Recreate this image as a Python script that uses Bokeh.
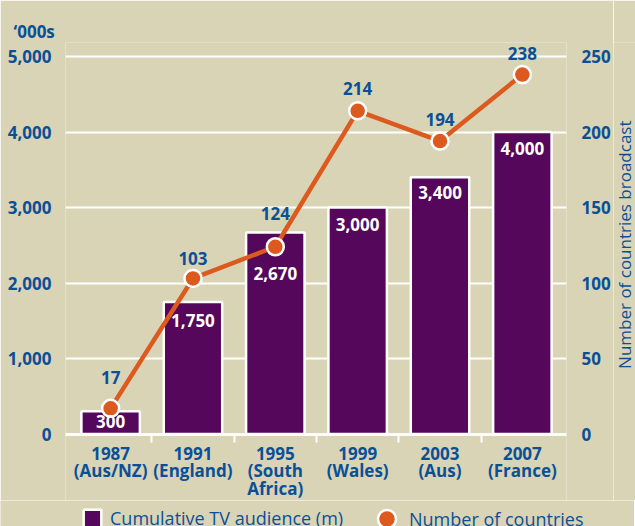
from math import pi
from bokeh.plotting import figure
from bokeh.layouts import row, column
from bokeh.models import (Range1d, LinearAxis, FixedTicker, NumeralTickFormatter,
                          ColumnDataSource, Legend, LegendItem)
from bokeh.core.properties import value
from bokeh.embed import file_html
from bokeh.resources import INLINE

# ---------------- data ----------------
years = ["1987", "1991", "1995", "1999", "2003", "2007"]
hosts = ["(Aus/NZ)", "(England)", "(South\nAfrica)", "(Wales)", "(Aus)", "(France)"]
audience = [300, 1750, 2670, 3000, 3400, 4000]          # cumulative TV audience
countries = [17, 103, 124, 214, 194, 238]               # number of countries broadcast
left_ticks = [0, 1000, 2000, 3000, 4000, 5000]
right_ticks = [0, 50, 100, 150, 200, 250]

# ---------------- styles / layout ----------------
BG = "#D9D4B6"
PURPLE = "#55075B"
ORANGE = "#DC5A1E"
BLUE = "#0B5096"
FONT = "Open Sans"
bar_label_offsets = [10, 19, 41, 17, 15, 16]
line_label_offsets = [-31, -20, -33, -22, -22, -21]

W_MAIN, H_MAIN, W_SIDE, H_LEG = 613, 500, 22, 26
B_LEFT, B_RIGHT, B_TOP = 65, 43, 42
ZERO_PX, TOP_PX = 433.5, 56.0          # canvas rows of value 0 and of the top tick
ppu = (ZERO_PX - TOP_PX) / left_ticks[-1]
y_end = left_ticks[-1] + (TOP_PX - B_TOP) / ppu
y_start = -(H_MAIN - ZERO_PX) / ppu
ratio = left_ticks[-1] / right_ticks[-1]

xs = [i + 0.5 for i in range(len(years))]


def bare(fig):
    fig.xaxis.visible = False
    fig.yaxis.visible = False
    fig.grid.visible = False
    return fig


p = figure(width=W_MAIN, height=H_MAIN, x_range=Range1d(-0.048, 6.036),
           y_range=Range1d(y_start, y_end), output_backend="svg", toolbar_location=None,
           min_border_left=B_LEFT, min_border_right=B_RIGHT,
           min_border_top=B_TOP, min_border_bottom=0,
           background_fill_color=BG, border_fill_color=BG, outline_line_color=None)
p.extra_y_ranges = {"countries": Range1d(y_start / ratio, y_end / ratio)}

# unit label as the title
p.title.text = "\u2018000s"
p.title.align = "left"
p.title.offset = -52
p.title.vertical_align = "bottom"
p.title.standoff = 0
p.title.text_font = FONT
p.title.text_font_style = "bold"
p.title.text_font_size = "17px"
p.title.text_color = BLUE

# grid
lt = FixedTicker(ticks=left_ticks)
p.xgrid.visible = False
p.ygrid.ticker = lt
p.ygrid.grid_line_color = "white"
p.ygrid.grid_line_width = 2

# left axis
ya = p.yaxis[0]
ya.ticker = lt
ya.formatter = NumeralTickFormatter(format="0,0")
ya.axis_line_color = None
ya.major_tick_line_color = None
ya.minor_tick_line_color = None
ya.major_label_standoff = 8
ya.major_label_text_font = FONT
ya.major_label_text_font_style = "bold"
ya.major_label_text_font_size = "17px"
ya.major_label_text_color = BLUE

# right axis
ra = LinearAxis(y_range_name="countries", ticker=FixedTicker(ticks=right_ticks))
ra.axis_line_color = None
ra.major_tick_line_color = None
ra.minor_tick_line_color = None
ra.major_label_standoff = 9
ra.major_label_text_font = FONT
ra.major_label_text_font_style = "bold"
ra.major_label_text_font_size = "17px"
ra.major_label_text_color = BLUE
p.add_layout(ra, "right")

# bottom axis at y=0
xa = p.xaxis[0]
xa.fixed_location = 0
xa.ticker = FixedTicker(ticks=xs, minor_ticks=[i for i in range(1, len(years))])
xa.major_label_overrides = {x: f"{y}\n{h}" for x, y, h in zip(xs, years, hosts)}
xa.axis_line_color = "white"
xa.axis_line_width = 2.5
xa.major_tick_line_color = None
xa.minor_tick_line_color = "white"
xa.minor_tick_line_width = 2
xa.minor_tick_in = 0
xa.minor_tick_out = 8
xa.major_tick_out = 0
xa.major_tick_in = 0
xa.major_label_standoff = 0
xa.major_label_text_font = FONT
xa.major_label_text_font_style = "bold"
xa.major_label_text_font_size = "17px"
xa.major_label_text_color = BLUE
xa.major_label_text_line_height = 0.76

src = ColumnDataSource(dict(
    x=xs, aud=audience, cnt=countries,
    aud_lbl=[f"{v:,}" for v in audience], cnt_lbl=[str(v) for v in countries],
    boff=bar_label_offsets, loff=line_label_offsets))

bar_style = dict(fill_color=PURPLE, line_color="white", line_width=2.5)
dot_style = dict(marker="circle", size=17, fill_color=ORANGE, line_color="white", line_width=2.5)

p.vbar(x="x", top="aud", bottom=0, width=0.71, source=src, **bar_style)
p.line(x="x", y="cnt", source=src, y_range_name="countries", line_color=ORANGE, line_width=4.5)
p.scatter(x="x", y="cnt", source=src, y_range_name="countries", **dot_style)

p.text(x="x", y="aud", text="aud_lbl", source=src, y_offset="boff",
       text_font=value(FONT), text_font_style="bold", text_font_size="17px",
       text_color="white", text_align="center", text_baseline="middle")
p.text(x="x", y="cnt", text="cnt_lbl", source=src, y_offset="loff", y_range_name="countries",
       text_font=value(FONT), text_font_style="bold", text_font_size="17px",
       text_color=BLUE, text_align="center", text_baseline="middle")

# ---- right-hand axis title (centred on the 0-250 scale) ----
side = bare(figure(width=W_SIDE, height=H_MAIN, x_range=Range1d(0, 1),
                   y_range=Range1d(-(H_MAIN - ZERO_PX) / (ppu * ratio), ZERO_PX / (ppu * ratio)),
                   output_backend="svg", toolbar_location=None, min_border=0,
                   background_fill_color=BG, border_fill_color=BG, outline_line_color=None))
side.text(x=[0.5], y=[(right_ticks[0] + right_ticks[-1]) / 2],
          text=["Number of countries broadcast"], angle=pi / 2, y_offset=-22,
          text_font=value(FONT), text_font_size="17px", text_color=BLUE,
          text_align="center", text_baseline="middle")

# ---- legend strip (keys reuse the chart's data, drawn off-view) ----
leg = bare(figure(width=W_MAIN + W_SIDE, height=H_LEG, x_range=Range1d(-100, -99),
                  y_range=Range1d(0, 1), output_backend="svg", toolbar_location=None,
                  min_border=0, background_fill_color=BG, border_fill_color=BG,
                  outline_line_color=None))
bar_key = leg.vbar(x="x", top="aud", bottom=0, width=0.71, source=src, **bar_style)
dot_key = leg.scatter(x="x", y="cnt", source=src, **dot_style)
common = dict(orientation="horizontal", background_fill_alpha=0, border_line_color=None,
              padding=0, margin=0, label_text_font=FONT, label_text_font_size="18px",
              label_text_color=BLUE)
leg.add_layout(Legend(items=[LegendItem(label="Cumulative TV audience (m)", renderers=[bar_key])],
                      location=(81, -4), glyph_width=22, glyph_height=22, label_standoff=7,
                      **common))
leg.add_layout(Legend(items=[LegendItem(label="Number of countries", renderers=[dot_key])],
                      location=(364, -15), glyph_width=45, glyph_height=45, label_standoff=0,
                      **common))

layout = column(row(p, side), leg)
open("out.html", "w").write(file_html(layout, INLINE))
